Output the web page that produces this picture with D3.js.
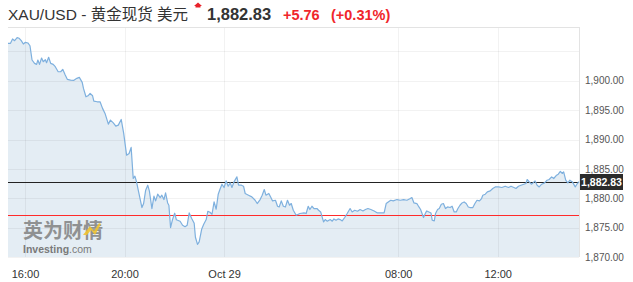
<!DOCTYPE html>
<html>
<head>
<meta charset="utf-8">
<script src="https://cdn.jsdelivr.net/npm/d3@7"></script>
<style>
  html, body { margin: 0; padding: 0; background: #fff; }
  svg { display: block; }
  text { font-family: "Liberation Sans", Arial, "Noto Sans CJK SC", sans-serif; }
</style>
</head>
<body>
<svg id="chart" width="633" height="282"></svg>
<script>
// ---- data ----
const title = "XAU/USD - 黄金现货 美元";
const lastPrice = 1882.83;
const change = "+5.76";
const changePct = "(+0.31%)";
const prevClose = 1877.07;

// trading minutes since 16:00 (daily break removed)
const times = [-41,-35,-30,-25,-19,-14,-9,-4,1,7,12,17,23,28,31,35,40,44,49,52,57,62,68,73,80,86,91,97,102,110,118,125,131,138,141,147,152,157,163,166,174,181,187,193,201,206,213,219,225,232,238,245,251,256,261,265,269,274,282,286,291,296,300,306,311,315,320,326,330,335,339,344,347,351,356,361,365,374,380,386,391,396,402,408,411,416,420,426,431,437,441,446,451,456,461,466,470,475,480,485,490,495,499,504,511,515,522,527,531,539,547,555,560,567,572,577,581,588,593,597,604,609,613,618,623,628,633,638,642,647,654,663,673,678,683,687,692,697,704,708,713,720,724,729,736,741,745,750,755,760,765,771,777,784,789,795,802,808,815,821,827,834,842,850,858,866,871,876,882,888,897,905,913,921,929,933,938,945,950,954,961,966,969,974,979,982,987,990,995,999,1004,1009,1014,1019,1025,1030,1035,1040,1044,1049,1054,1059,1064,1069,1073,1080,1085,1090,1096,1101,1104,1110,1115,1122,1128,1134,1142,1150,1158,1166,1172,1179,1184,1190,1196,1203,1208,1211,1216,1221,1225,1230,1235,1240,1246,1253,1259,1264,1270,1275,1282,1286,1291,1296,1299,1304,1309,1314,1320,1327,1331,1336];
const prices = [1906.37,1906.37,1907.11,1906.82,1907.33,1907.23,1906.82,1906.25,1906.54,1906.43,1905.96,1903.53,1902.96,1902.79,1903.53,1902.79,1903.87,1903.24,1903.58,1903.07,1903.99,1902.96,1902.79,1902.39,1901.53,1901.53,1901.94,1900.97,1900.24,1900.12,1900.07,1900.41,1900.58,1899.73,1898.70,1897.27,1897.44,1897.85,1897.44,1896.54,1896.42,1896.42,1895.30,1894.44,1892.62,1893.30,1892.84,1892.28,1892.45,1893.42,1891.03,1887.33,1887.62,1888.65,1883.36,1883.76,1882.78,1881.08,1878.42,1879.10,1881.37,1882.22,1881.20,1878.25,1880.35,1879.55,1880.69,1880.12,1880.52,1879.78,1880.91,1879.20,1878.81,1875.01,1876.43,1877.45,1876.34,1876.09,1875.40,1875.15,1875.40,1877.50,1876.55,1875.74,1873.36,1872.16,1872.56,1874.72,1875.57,1876.37,1877.79,1877.62,1877.28,1879.37,1878.13,1880.69,1881.49,1882.39,1881.83,1882.95,1882.05,1882.61,1881.83,1882.78,1883.64,1882.22,1882.22,1882.05,1880.81,1880.52,1880.23,1879.66,1879.10,1879.78,1880.52,1881.49,1880.52,1880.81,1880.12,1879.55,1879.66,1878.64,1878.52,1879.55,1878.64,1878.52,1879.66,1878.81,1879.10,1877.96,1877.11,1877.40,1877.50,1877.40,1878.64,1878.08,1878.64,1878.25,1878.25,1877.96,1877.67,1875.97,1876.37,1876.09,1876.37,1876.09,1876.48,1876.26,1876.48,1876.37,1876.14,1876.72,1877.40,1878.25,1877.67,1877.96,1877.79,1878.08,1877.84,1878.08,1878.25,1878.08,1877.84,1877.50,1877.50,1877.50,1879.10,1879.37,1879.66,1879.55,1879.78,1879.66,1879.78,1879.66,1879.95,1880.12,1879.20,1879.10,1878.52,1878.08,1876.72,1877.50,1877.84,1877.67,1877.50,1876.26,1876.14,1877.40,1878.08,1878.25,1878.98,1879.10,1878.25,1878.52,1878.42,1878.64,1877.67,1877.67,1878.25,1878.81,1879.20,1879.37,1879.10,1878.52,1878.42,1878.42,1879.10,1879.66,1879.55,1879.95,1880.52,1880.69,1881.08,1881.25,1881.66,1881.93,1881.93,1881.83,1882.05,1881.83,1882.05,1881.83,1881.66,1882.05,1882.22,1882.39,1882.51,1883.19,1882.78,1882.39,1882.61,1882.95,1882.22,1881.93,1882.39,1882.61,1883.07,1883.19,1883.64,1883.36,1883.93,1884.10,1884.56,1884.22,1884.49,1883.07,1882.61,1883.07,1882.78,1881.93,1882.39,1882.83];

const xTickValues = [0, 240, 480, 900, 1140];
const xTickLabels = ["16:00", "20:00", "Oct 29", "08:00", "12:00"];
const yTickValues = [1870, 1875, 1880, 1885, 1890, 1895, 1900];
const yGridValues = [1870, 1875, 1880, 1885, 1890, 1895, 1900, 1905];

// ---- layout ----
const L = 8, R = 579, T = 27, B = 257;
const svg = d3.select("#chart");
const x = d3.scaleLinear().domain([-41, 1336]).range([L, R]);
const y = d3.scaleLinear().domain([1870, 1909.15]).range([B, T]);
const data = times.map((t, i) => ({ t, v: prices[i] }));
const crisp = v => Math.round(v) + 0.5;

// header
const head = svg.append("g");
head.append("text").attr("x", 8).attr("y", 20).attr("font-size", 15.5).attr("fill", "#333").text(title);
head.append("path").attr("d", "M194,6 L198,2.5 L202,6 L200.5,6 L200.5,7.5 L195.5,7.5 L195.5,6 Z").attr("fill", "#e8222a");
head.append("text").attr("x", 207).attr("y", 20).attr("font-size", 16.5).attr("font-weight", "bold").attr("fill", "#333").text(d3.format(",.2f")(lastPrice));
head.append("text").attr("x", 283).attr("y", 20).attr("font-size", 14.5).attr("font-weight", "bold").attr("fill", "#f0262b").text(change);
head.append("text").attr("x", 331).attr("y", 20).attr("font-size", 14.5).attr("font-weight", "bold").attr("fill", "#f0262b").text(changePct);

// area
svg.append("path").datum(data)
  .attr("d", d3.area().x(d => x(d.t)).y0(B).y1(d => y(d.v)))
  .attr("fill", "#e4edf4");

// gridlines
svg.append("g").selectAll("line").data(yGridValues).join("line")
  .attr("x1", L).attr("x2", R).attr("y1", d => crisp(y(d))).attr("y2", d => crisp(y(d)))
  .attr("stroke", "#000").attr("stroke-opacity", 0.05);
svg.append("g").selectAll("line").data(xTickValues).join("line")
  .attr("x1", d => crisp(x(d))).attr("x2", d => crisp(x(d))).attr("y1", T).attr("y2", B)
  .attr("stroke", "#000").attr("stroke-opacity", 0.05);

// borders
svg.append("line").attr("x1", L).attr("x2", R).attr("y1", T + 0.5).attr("y2", T + 0.5).attr("stroke", "#e3e3e3");
svg.append("line").attr("x1", R + 0.5).attr("x2", R + 0.5).attr("y1", T).attr("y2", B).attr("stroke", "#e3e3e3");

// watermark
const wm = svg.append("g");
wm.append("text").attr("x", 23).attr("y", 238).attr("font-size", 20).attr("font-weight", "bold")
  .attr("font-family", "'Noto Sans CJK SC', sans-serif").attr("fill", "#808080").attr("fill-opacity", 0.85)
  .text("英为财情");
wm.append("path").attr("d", "M83,235 L90,226 L94,231 L99,223 L101,224 L95,235 L91,230 L87,235 Z").attr("fill", "#f0c330").attr("fill-opacity", 0.9);
const inv = wm.append("text").attr("x", 23).attr("y", 253).attr("font-size", 10.5).attr("fill", "#7a7a7a");
inv.append("tspan").attr("font-weight", "bold").text("Investing");
inv.append("tspan").text(".com");

// reference lines
svg.append("line").attr("x1", L).attr("x2", R).attr("y1", crisp(y(prevClose))).attr("y2", crisp(y(prevClose)))
  .attr("stroke", "#ff2b2b").attr("stroke-width", 1.1);
svg.append("line").attr("x1", L).attr("x2", R).attr("y1", crisp(y(lastPrice))).attr("y2", crisp(y(lastPrice)))
  .attr("stroke", "#222").attr("stroke-width", 1);

// price line
svg.append("path").datum(data)
  .attr("d", d3.line().x(d => x(d.t)).y(d => y(d.v)))
  .attr("fill", "none").attr("stroke", "#7eb0de").attr("stroke-width", 1.2).attr("stroke-linejoin", "round");

// x axis
const xAxis = d3.axisBottom(x).tickValues(xTickValues).tickFormat((d, i) => xTickLabels[i]).tickSize(0).tickPadding(13);
const gx = svg.append("g").attr("transform", `translate(0,${B})`).call(xAxis);
gx.select(".domain").remove();
gx.selectAll("text").attr("font-size", 11).attr("fill", "#333")
  .attr("font-family", "'Liberation Sans', Arial, sans-serif");

// y axis
const yAxis = d3.axisRight(y).tickValues(yTickValues).tickFormat(d3.format(",.2f")).tickSize(0).tickPadding(0);
const gy = svg.append("g").attr("transform", `translate(585,0)`).call(yAxis);
gy.select(".domain").remove();
gy.selectAll("text").attr("font-size", 10).attr("fill", "#555")
  .attr("font-family", "'Liberation Sans', Arial, sans-serif");

// current price box
const py = crisp(y(lastPrice));
svg.append("rect").attr("x", 580).attr("y", py - 8.5).attr("width", 43).attr("height", 16).attr("fill", "#2b2b2b");
svg.append("text").attr("x", 601.5).attr("y", py + 3.5).attr("text-anchor", "middle")
  .attr("font-size", 10.5).attr("font-weight", "bold").attr("fill", "#fff").text(d3.format(",.2f")(lastPrice));
</script>
</body>
</html>
